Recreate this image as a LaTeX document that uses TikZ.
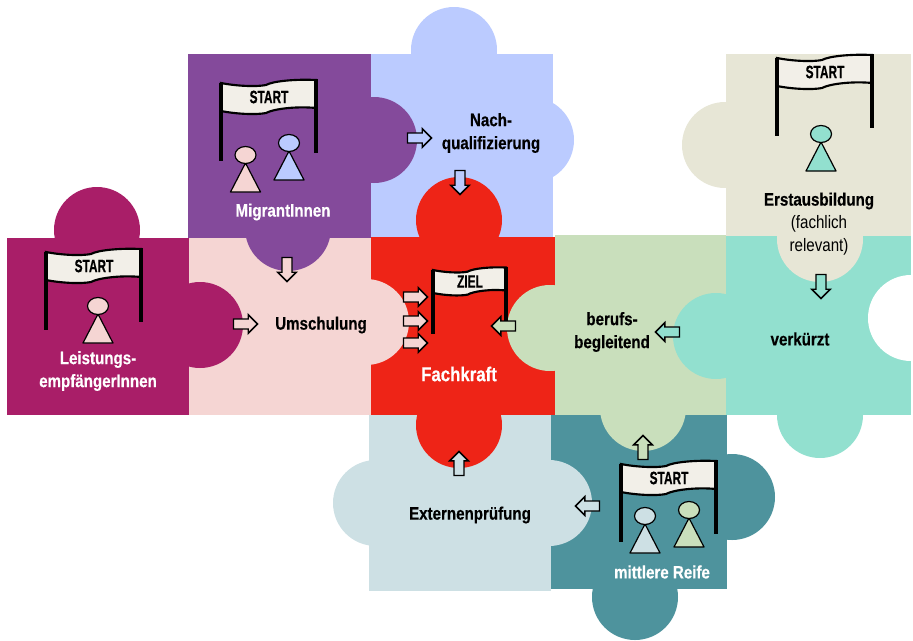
\documentclass[tikz,border=0pt]{standalone}
\usepackage{fontspec}
\setmainfont[FakeStretch=0.84, BoldFeatures={FakeBold=0.4}]{Liberation Sans}
\newfontfamily\flagfont[FakeStretch=0.66, BoldFeatures={FakeBold=0.4}]{Liberation Sans}
\usetikzlibrary{shapes.arrows}
\definecolor{magentapiece}{HTML}{A91E68}
\definecolor{purplepiece}{HTML}{844A9B}
\definecolor{bluepiece}{HTML}{BBCBFF}
\definecolor{pinkpiece}{HTML}{F5D5D3}
\definecolor{redpiece}{HTML}{EE2417}
\definecolor{greenpiece}{HTML}{C9DFBC}
\definecolor{mintpiece}{HTML}{92E0CF}
\definecolor{beigepiece}{HTML}{E7E6D6}
\definecolor{icepiece}{HTML}{CDE0E4}
\definecolor{tealpiece}{HTML}{4E939D}
\definecolor{flagcream}{HTML}{F2EFE8}
\newcommand{\startflag}[6]{
  \begin{scope}[shift={(#2,#3)}, xscale=#4, yscale=#5]
    \draw[flagline, fill=flagcream] (0,0) .. controls (15,3) and (35,4) .. (45,2) .. controls (52,-2) and (75,-4) .. (95,-3)
      -- (95,25) .. controls (75,23) and (52,26) .. (45,30) .. controls (35,32) and (15,31) .. (0,28) -- cycle;
    \draw[flagpole] (0,0) -- (0,78);
    \draw[flagpole] (95,-4) -- (95,70);
    \node[flaglabel] (#1) at (48,14) {#6};
  \end{scope}
}
\newcommand{\pawn}[3]{
  \draw[pawnline, fill=#3] (#1-15,#2+37) -- (#1,#2+8) -- (#1+15,#2+37) -- cycle;
  \draw[pawnline, fill=#3] (#1,#2) ellipse [x radius=10.5, y radius=8.5];
}
\begin{document}
\begin{tikzpicture}[x=0.75pt, y=-0.75pt,
    flagline/.style={line width=1.6pt, black},
    flagpole/.style={line width=3pt, black},
    pawnline/.style={line width=0.9pt, black, line join=round},
    flaglabel/.style={font=\flagfont\bfseries\fontsize{13.5}{15}\selectfont, inner sep=0pt},
    puzzlelabel/.style={font=\bfseries\fontsize{13.5}{17.25}\selectfont, align=center, inner sep=0pt},
    whitelabel/.style={puzzlelabel, white},
    blockarrow/.style={single arrow, draw=black, line width=1.1pt, inner xsep=0pt, inner ysep=3.2pt,
      minimum height=24*0.75pt, single arrow head extend=3.2pt, single arrow head indent=0pt}]
  \useasboundingbox (0,0) rectangle (913,640);

  \fill[bluepiece] (371,54) rectangle (553,237);
  \fill[bluepiece] (454,50) circle [radius=43];
  \fill[bluepiece] (531,140) circle [radius=43];

  \fill[tealpiece] (551,415) rectangle (727,589);
  \fill[tealpiece] (732,497) circle [radius=43];
  \fill[tealpiece] (635,597) circle [radius=43];

  \fill[icepiece] (369,415) rectangle (551,591);
  \fill[icepiece] (376,503) circle [radius=43];
  \fill[icepiece] (549,503) circle [radius=43];

  \fill[redpiece] (371,237) rectangle (555,415);
  \fill[redpiece] (459,220) circle [radius=43];
  \fill[redpiece] (459,425) circle [radius=43];

  \fill[pinkpiece] (189,238) rectangle (371,415);
  \fill[pinkpiece] (366,322) circle [radius=43];

  \fill[magentapiece] (7,238) rectangle (189,415);
  \fill[magentapiece] (97,230) circle [radius=43];
  \fill[magentapiece] (200,325) circle [radius=43];

  \fill[purplepiece] (188,54) rectangle (371,238);
  \fill[purplepiece] (374,140) circle [radius=43];
  \fill[purplepiece] (288,228) circle [radius=43];

  \fill[greenpiece] (555,235) rectangle (726,415);
  \fill[greenpiece] (550,328) circle [radius=43];
  \fill[greenpiece] (643,408) circle [radius=43];

  \fill[mintpiece] (726,236) rectangle (911,415);
  \fill[mintpiece] (716,336) circle [radius=43];
  \fill[mintpiece] (820,415) circle [radius=43];
  \fill[white] (911,318) circle [radius=43];

  \fill[beigepiece] (726,54) rectangle (911,236);
  \fill[beigepiece] (725,145) circle [radius=43];
  \fill[beigepiece] (820,239) circle [radius=43];

  \startflag{leistungflag}{46}{252}{1}{1}{START}
  \startflag{migrantflag}{221}{83}{1}{1}{START}
  \startflag{erstflag}{777}{58}{1}{1}{START}
  \startflag{reifeflag}{621}{464}{1}{1}{START}
  \startflag{zielflag}{433}{270}{0.77}{0.82}{ZIEL}

  \pawn{98}{306}{pinkpiece}
  \pawn{245.5}{155}{pinkpiece}
  \pawn{289}{143}{bluepiece}
  \pawn{821}{134}{mintpiece}
  \pawn{645}{516}{icepiece}
  \pawn{689}{510}{greenpiece}

  \node[whitelabel] (leistung) at (98,371) {Leistungs-\\empfängerInnen};
  \node[whitelabel] (migrant) at (283,212) {MigrantInnen};
  \node[puzzlelabel] (nach) at (491,133) {Nach-\\qualifizierung};
  \node[puzzlelabel] (umschulung) at (321,325) {Umschulung};
  \node[whitelabel, font=\bfseries\fontsize{15}{17}\selectfont] (fachkraft) at (459,374) {Fachkraft};
  \node[puzzlelabel] (erst) at (819,201) {Erstausbildung};
  \node[puzzlelabel, font=\fontsize{13.5}{17.25}\selectfont] (fachlich) at (819,235) {(fachlich\\relevant)};
  \node[puzzlelabel] (berufs) at (612,332) {berufs-\\begleitend};
  \node[puzzlelabel] (verkuerzt) at (800,339) {verkürzt};
  \node[puzzlelabel] (extern) at (470,515) {Externenprüfung};
  \node[whitelabel] (reife) at (662,572) {mittlere Reife};

  \node[blockarrow, fill=bluepiece] (arrowa) at (417,138) {};
  \node[blockarrow, fill=bluepiece, rotate=-90] (arrowb) at (460,180) {};
  \node[blockarrow, fill=pinkpiece, rotate=-90] (arrowc) at (287,267) {};
  \node[blockarrow, fill=pinkpiece] (arrowd) at (243,324) {};
  \node[blockarrow, fill=pinkpiece] (arrowe) at (413,297) {};
  \node[blockarrow, fill=pinkpiece] (arrowf) at (413,321) {};
  \node[blockarrow, fill=pinkpiece] (arrowg) at (413,343) {};
  \node[blockarrow, fill=greenpiece, rotate=180] (arrowh) at (506,326) {};
  \node[blockarrow, fill=mintpiece, rotate=180] (arrowi) at (670,332) {};
  \node[blockarrow, fill=mintpiece, rotate=-90] (arrowj) at (821,284) {};
  \node[blockarrow, fill=greenpiece, rotate=90] (arrowk) at (643,450) {};
  \node[blockarrow, fill=icepiece, rotate=180] (arrowl) at (590,506) {};
  \node[blockarrow, fill=icepiece, rotate=90] (arrowm) at (459,466) {};
\end{tikzpicture}
\end{document}
